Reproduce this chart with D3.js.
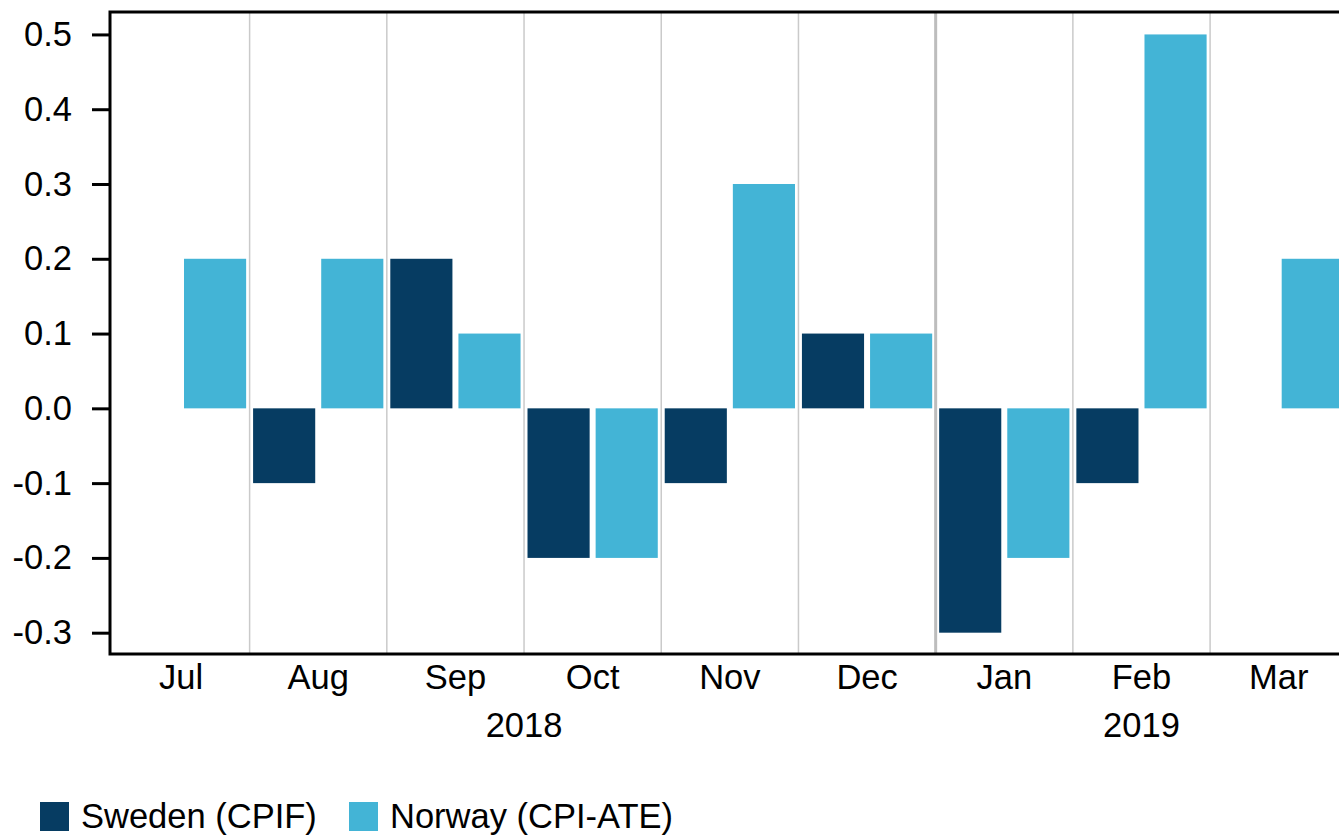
<!DOCTYPE html>
<html>
<head>
<meta charset="utf-8">
<script src="https://cdn.jsdelivr.net/npm/d3@7"></script>
<style>
  html, body { margin: 0; padding: 0; background: #fff; }
  svg { display: block; font-family: "Liberation Sans", Arial, sans-serif; }
</style>
</head>
<body>
<div class="graph"></div>
<script>
const months = ["Jul", "Aug", "Sep", "Oct", "Nov", "Dec", "Jan", "Feb", "Mar"];
const sweden = [0, -0.1, 0.2, -0.2, -0.1, 0.1, -0.3, -0.1, 0];
const norway = [0.2, 0.2, 0.1, -0.2, 0.3, 0.1, -0.2, 0.5, 0.2];
const seriesNames = ["Sweden (CPIF)", "Norway (CPI-ATE)"];
const seriesColors = ["#063c62", "#43b4d6"];
const yTicks = [0.5, 0.4, 0.3, 0.2, 0.1, 0.0, -0.1, -0.2, -0.3];
const years = [
  { label: "2018", first: "Jul", last: "Dec" },
  { label: "2019", first: "Jan", last: "Mar" }
];

const width = 1339;
const height = 837;
const plotLeft = 110, plotTop = 12, plotBottom = 654;
const fontSize = 34.5;

let svg = d3.select(".graph")
  .append("svg")
  .attr("width", width)
  .attr("height", height);

// month bands run past the right edge, the last one gets cut like in the source
let x = d3.scaleBand().domain(months).range([112.4, 1347.3]).padding(0);
let xSub = d3.scaleBand().domain([0, 1]).range([0, x.bandwidth()])
  .paddingInner(0.088).paddingOuter(0.051);
let y = d3.scaleLinear().domain([-0.3285, 0.530]).range([plotBottom, plotTop]);

// vertical separators between months
svg.append("g")
  .selectAll("line")
  .data(months.slice(1))
  .enter().append("line")
  .attr("x1", d => x(d))
  .attr("x2", d => x(d))
  .attr("y1", plotTop)
  .attr("y2", plotBottom)
  .attr("stroke", d => d === "Jan" ? "#bdbdbd" : "#cacaca")
  .attr("stroke-width", d => d === "Jan" ? 3 : 1.5);

// bars
let rows = months.map((m, i) => ({ month: m, values: [sweden[i], norway[i]] }));
svg.append("g")
  .selectAll("g")
  .data(rows)
  .enter().append("g")
  .attr("transform", d => "translate(" + x(d.month) + ",0)")
  .selectAll("rect")
  .data(d => d.values.map((v, k) => ({ k: k, v: v })))
  .enter().append("rect")
  .attr("x", d => xSub(d.k))
  .attr("width", xSub.bandwidth())
  .attr("y", d => y(Math.max(0, d.v)))
  .attr("height", d => Math.abs(y(d.v) - y(0)))
  .attr("fill", d => seriesColors[d.k]);

// frame: left, top and bottom lines
svg.append("rect")
  .attr("x", plotLeft)
  .attr("y", plotTop)
  .attr("width", 1250)
  .attr("height", plotBottom - plotTop)
  .attr("fill", "none")
  .attr("stroke", "#000")
  .attr("stroke-width", 3);

// y axis, plain hyphen for minus like the source
let yAxis = d3.axisLeft(y)
  .tickValues(yTicks)
  .tickSize(18)
  .tickPadding(20)
  .tickFormat(d => d3.format(".1f")(d).replace("\u2212", "-"));
let yg = svg.append("g")
  .attr("transform", "translate(" + plotLeft + ",0)")
  .call(yAxis);
yg.select(".domain").remove();
yg.selectAll(".tick line").attr("stroke", "#000").attr("stroke-width", 3);
yg.selectAll(".tick text")
  .attr("font-size", fontSize)
  .attr("font-family", "Liberation Sans, Arial, sans-serif")
  .attr("fill", "#000");

// month labels
let xAxis = d3.axisBottom(x).tickSize(0).tickPadding(11);
let xg = svg.append("g")
  .attr("transform", "translate(0," + plotBottom + ")")
  .call(xAxis);
xg.select(".domain").remove();
xg.selectAll(".tick text")
  .attr("font-size", fontSize)
  .attr("font-family", "Liberation Sans, Arial, sans-serif")
  .attr("fill", "#000");

// year labels
svg.append("g")
  .selectAll("text")
  .data(years)
  .enter().append("text")
  .attr("x", d => (x(d.first) + x(d.last) + x.bandwidth()) / 2)
  .attr("y", 737)
  .attr("text-anchor", "middle")
  .attr("font-size", fontSize)
  .text(d => d.label);

// legend (nudged up a bit so the parentheses are not cut by the page edge)
let legend = svg.append("g");
let legendX = [40, 349];
seriesNames.forEach((name, i) => {
  legend.append("rect")
    .attr("x", legendX[i])
    .attr("y", 802)
    .attr("width", 29)
    .attr("height", 29)
    .attr("fill", seriesColors[i]);
  legend.append("text")
    .attr("x", legendX[i] + 41)
    .attr("y", 828)
    .attr("font-size", fontSize)
    .text(name);
});
</script>
</body>
</html>
